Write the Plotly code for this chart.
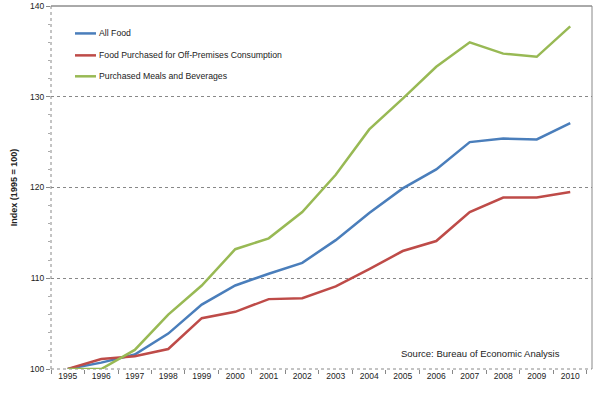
import plotly.graph_objects as go

years = [str(y) for y in range(1995, 2011)]
all_food = [100, 100.7, 101.6, 103.9, 107.1, 109.2, 110.5, 111.7, 114.2, 117.2, 119.9, 122.0, 125.0, 125.4, 125.3, 127.1]
off_premises = [100, 101.1, 101.4, 102.2, 105.6, 106.3, 107.7, 107.8, 109.1, 111.0, 113.0, 114.1, 117.3, 118.9, 118.9, 119.5]
meals = [100, 100, 102.1, 106.0, 109.2, 113.2, 114.4, 117.3, 121.4, 126.4, 129.8, 133.3, 136.0, 134.75, 134.4, 137.75]
y_ticks = [100, 110, 120, 130, 140]

names = ["All Food", "Food Purchased for Off-Premises Consumption", "Purchased Meals and Beverages"]
colors = ["#4A7EBB", "#BE4B48", "#98B954"]
series = [all_food, off_premises, meals]

fig = go.Figure()
for n, c, s in zip(names, colors, series):
    fig.add_trace(go.Scatter(x=years, y=s, name=n, mode="lines",
                             line=dict(color=c, width=2.5), showlegend=False))

font = "Liberation Sans, Arial, sans-serif"

# plot area in pixels
L, R, T, B = 51, 592, 5.5, 369.5
W, H = R - L, B - T


def px_x(p):
    return (p - L) / W


def px_y(p):
    return (B - p) / H


shapes = [
    dict(type="line", xref="paper", yref="paper", x0=0, x1=1, y0=1, y1=1,
         line=dict(color="#555", width=1), layer="below"),
    dict(type="line", xref="paper", yref="paper", x0=1, x1=1, y0=0, y1=1,
         line=dict(color="#888", width=1), layer="below"),
    dict(type="line", xref="paper", yref="paper", x0=0, x1=0, y0=0, y1=1,
         line=dict(color="#888", width=1, dash="dot"), layer="below"),
    dict(type="line", xref="paper", yref="paper", x0=0, x1=1, y0=0, y1=0,
         line=dict(color="#888", width=1, dash="dot"), layer="below"),
]
annotations = []
legend_y = [33, 55, 76]
for n, c, ly in zip(names, colors, legend_y):
    shapes.append(dict(type="line", xref="paper", yref="paper",
                       x0=px_x(75), x1=px_x(96), y0=px_y(ly), y1=px_y(ly),
                       line=dict(color=c, width=2.5)))
    annotations.append(dict(text=n, xref="paper", yref="paper", x=px_x(97), y=px_y(ly),
                            xanchor="left", yanchor="middle", showarrow=False,
                            font=dict(size=8.7, family=font, color="#222")))
annotations.append(dict(text="Source: Bureau of Economic Analysis", xref="paper", yref="paper",
                        x=px_x(562), y=px_y(354), xanchor="right", yanchor="middle", showarrow=False,
                        font=dict(size=9.5, family=font, color="#222")))

fig.update_layout(
    width=600, height=396,
    margin=dict(l=L, r=600 - R, t=T, b=396 - B),
    paper_bgcolor="white", plot_bgcolor="white",
    font=dict(family=font, size=9, color="#222"),
    showlegend=False,
    xaxis=dict(type="category", range=[-0.5, 15.65], showgrid=False,
               ticks="outside", tickson="boundaries", ticklen=4,
               tickcolor="#888", showline=False,
               tickfont=dict(size=8.5, family=font),
               automargin=False),
    yaxis=dict(range=[100, 140], tickmode="array", tickvals=y_ticks, showgrid=True,
               gridcolor="#888", griddash="dot", gridwidth=1,
               showline=False,
               ticks="outside", ticklen=4, tickcolor="#888",
               minor=dict(ticks="outside", ticklen=2, dtick=2, tickcolor="#aaa"),
               tickfont=dict(size=8.5, family=font),
               title=dict(text="<b>Index (1995 = 100)</b>", font=dict(size=9, family=font), standoff=10),
               zeroline=False, automargin=False),
    annotations=annotations,
    shapes=shapes,
)

fig.write_html("out.html", post_script="document.body.style.margin='0';",
               config={"displayModeBar": False})
